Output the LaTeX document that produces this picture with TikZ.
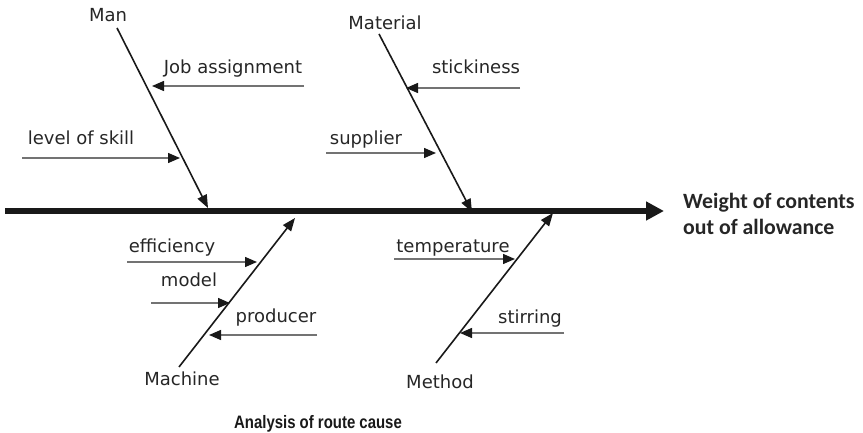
\documentclass[tikz,border=0pt]{standalone}
\usepackage{fontspec}
\usepackage{graphicx}
\setmainfont{DejaVu Sans}
\newfontfamily\headfont{Carlito}
\newfontfamily\capfont{Liberation Sans}
\usetikzlibrary{arrows.meta}
\begin{document}
\begin{tikzpicture}[x=1pt,y=-1pt,
  lbl/.style={anchor=base, inner sep=0pt, text=black!85, font=\fontsize{18}{20}\selectfont},
  headtxt/.style={anchor=base west, inner sep=0pt, text=black!85, font=\headfont\bfseries\fontsize{21.8}{24}\selectfont},
  captxt/.style={anchor=base, inner sep=0pt, text=black!90, font=\capfont\bfseries\fontsize{18}{20}\selectfont},
  bone/.style={line width=1.6pt, draw=black!90, -{Triangle[length=13pt,width=10pt]}},
  sub/.style={line width=1.4pt, draw=black!55, -{Triangle[length=12pt,width=10pt,color=black!90]}},
  spine/.style={line width=6pt, draw=black!90, -{Triangle[length=18pt,width=18pt]}}]
\useasboundingbox (0,0) rectangle (863,433);

% spine
\coordinate (sp0) at (5,211);
\coordinate (sp1) at (664,211);
\draw[spine] (sp0) -- (sp1);

% Man
\coordinate (manS) at (117,28);
\coordinate (manE) at (208,208);
\draw[bone] (manS) -- (manE);
\node[lbl] (man) at (108,22) {Man};
\coordinate (jobS) at (304,86);
\coordinate (jobE) at (152,86);
\draw[sub] (jobS) -- (jobE);
\node[lbl] (job) at (233,74) {Job assignment};
\coordinate (sklS) at (22,158);
\coordinate (sklE) at (180,158);
\draw[sub] (sklS) -- (sklE);
\node[lbl] (skl) at (81,145) {level of skill};

% Material
\coordinate (matS) at (379,34);
\coordinate (matE) at (472,212);
\draw[bone] (matS) -- (matE);
\node[lbl] (mat) at (385,30) {Material};
\coordinate (stkS) at (520,88);
\coordinate (stkE) at (406,88);
\draw[sub] (stkS) -- (stkE);
\node[lbl] (stk) at (476,74) {stickiness};
\coordinate (supS) at (326,153);
\coordinate (supE) at (436,153);
\draw[sub] (supS) -- (supE);
\node[lbl] (sup) at (366,145) {supplier};

% Machine
\coordinate (macS) at (179,367);
\coordinate (macE) at (295,218);
\draw[bone] (macS) -- (macE);
\node[lbl] (mac) at (182,385) {Machine};
\coordinate (effS) at (127,262);
\coordinate (effE) at (257,262);
\draw[sub] (effS) -- (effE);
\node[lbl] (eff) at (172,252) {efficiency};
\coordinate (modS) at (151,303);
\coordinate (modE) at (230,303);
\draw[sub] (modS) -- (modE);
\node[lbl] (mod) at (189,287) {model};
\coordinate (proS) at (317,335);
\coordinate (proE) at (209,335);
\draw[sub] (proS) -- (proE);
\node[lbl] (pro) at (276,322) {producer};

% Method
\coordinate (metS) at (436,363);
\coordinate (metE) at (553,213);
\draw[bone] (metS) -- (metE);
\node[lbl] (met) at (440,388) {Method};
\coordinate (tmpS) at (394,259);
\coordinate (tmpE) at (515,259);
\draw[sub] (tmpS) -- (tmpE);
\node[lbl] (tmp) at (453,252) {temperature};
\coordinate (stiS) at (564,333);
\coordinate (stiE) at (460,333);
\draw[sub] (stiS) -- (stiE);
\node[lbl] (sti) at (530,323) {stirring};

% effect
\node[headtxt] (eff1) at (683,208) {Weight of contents};
\node[headtxt] (eff2) at (683,234) {out of allowance};

% caption
\node[captxt] (capt) at (318,428) {\scalebox{0.83}[1]{Analysis of route cause}};
\end{tikzpicture}
\end{document}
